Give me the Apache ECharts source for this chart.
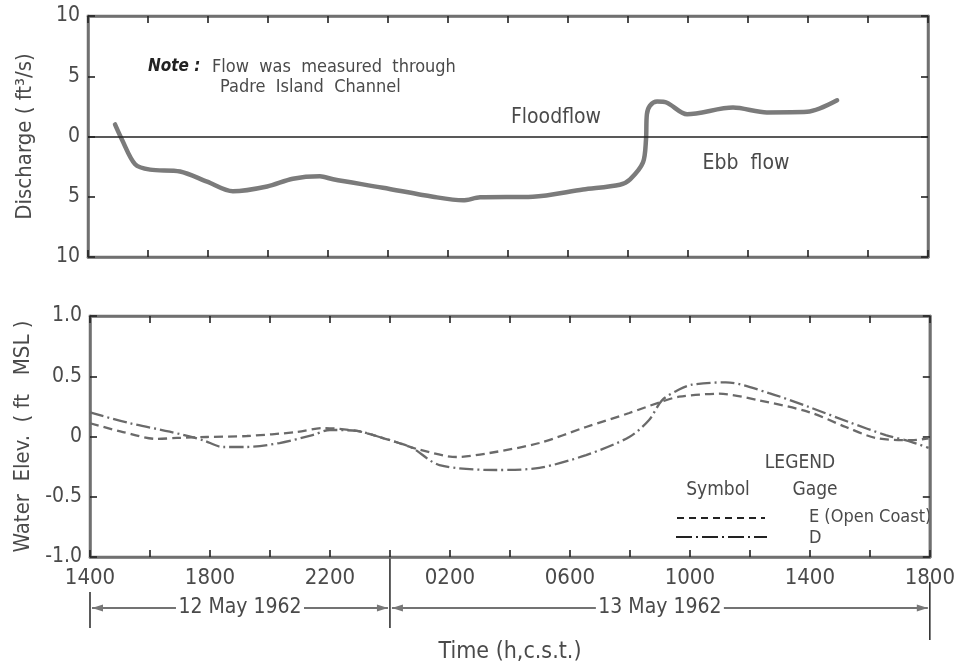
<!DOCTYPE html>
<html>
<head>
<meta charset="utf-8">
<script src="https://cdn.jsdelivr.net/npm/echarts@6/dist/echarts.min.js"></script>
<style>html,body{margin:0;padding:0;background:#fff}#c{width:958px;height:668px}</style>
</head>
<body>
<div id="c"></div>
<script>
// ---- data (hours after 1400 c.s.t., 12 May 1962) ----
const hoursQ = [0.9,1.13,1.57,2.07,3.07,3.97,4.83,5.97,6.83,7.73,8.17,9.83,11.5,12.5,13.07,14.83,16.5,17.73,18.07,18.5,18.6,18.63,18.73,18.97,19.3,19.97,21.5,22.63,23.97,24.97];
const discharge = [1.0,-0.25,-2.3,-2.75,-2.9,-3.75,-4.55,-4.15,-3.5,-3.3,-3.55,-4.25,-5.0,-5.3,-5.05,-5.0,-4.4,-4.0,-3.55,-2.15,-0.25,1.85,2.55,2.9,2.8,1.85,2.4,2.0,2.05,3.0];

const hoursE = [0,1.1,2.23,2.9,3.9,5.23,6.9,7.76,8.9,9.65,10.3,10.99,12.22,13.32,14.98,16.54,17.98,19.07,19.64,20.97,22.3,23.97,25.2,26.2,27.4,27.96];
const elevE = [0.11,0.037,-0.02,-0.012,-0.004,0.004,0.037,0.07,0.046,-0.004,-0.054,-0.11,-0.17,-0.137,-0.054,0.079,0.195,0.29,0.33,0.355,0.30,0.203,0.079,-0.012,-0.03,-0.015];

const hoursD = [0,1.33,2.66,3.76,4.43,5.23,6.32,7.42,8.0,8.9,9.65,10.3,10.75,11.65,13.55,14.98,16.54,17.98,18.64,19.07,19.64,20.07,21.2,22.64,23.97,25.3,26.53,27.4,27.96];
const elevD = [0.2,0.11,0.04,-0.03,-0.087,-0.087,-0.054,0.012,0.054,0.046,-0.004,-0.054,-0.095,-0.237,-0.278,-0.26,-0.154,-0.004,0.137,0.30,0.39,0.43,0.45,0.36,0.245,0.12,0.012,-0.046,-0.095];

const xTickLabels = ['1400','1800','2200','0200','0600','1000','1400','1800'];
const topYLabels = ['10','5','0','5','10'];
const bottomYLabels = ['-1.0','-0.5','0','0.5','1.0'];
const dayLabels = ['12 May 1962','13 May 1962'];

// ---- styling ----
const F = '"Liberation Sans Narrow","DejaVu Sans Condensed","Roboto Condensed","Liberation Sans",sans-serif';
const TXT = '#4a4a4a';
const BORDER = '#707070';

function pairs(xs, ys){ return xs.map((x,i)=>[x, ys[i]]); }

const tickStyle = {show:true, inside:true, length:7, lineStyle:{color:'#222', width:1.6}};
function xAx(grid, pos, labels){
  return {type:'value', gridIndex:grid, position:pos, min:0, max:28, interval:2,
    axisLine:{show:true, onZero:false, lineStyle:{color:BORDER, width:2.5}},
    axisTick:tickStyle, splitLine:{show:false},
    axisLabel: labels ? {show:true, margin:10, fontFamily:F, fontSize:22, color:TXT,
      formatter:v => (v % 4 === 0) ? xTickLabels[v/4] : ''} : {show:false}};
}
function yAx(grid, pos, min, max, step, labels, name, gap, nsize){
  return {type:'value', gridIndex:grid, position:pos, min:min, max:max, interval:step,
    axisLine:{show:true, onZero:false, lineStyle:{color:BORDER, width:2.5}},
    axisTick:tickStyle, splitLine:{show:false},
    name: name || '', nameLocation:'middle', nameGap: gap || 52, nameRotate: 90,
    nameTextStyle:{fontFamily:F, fontSize:nsize || 21, color:TXT},
    axisLabel: labels ? {show:true, margin:8, fontFamily:F, fontSize:21, color:TXT,
      formatter:v => labels[Math.round((v-min)/step)]} : {show:false}};
}

const option = {
  animation:false,
  backgroundColor:'#fff',
  grid:[
    {left:88, right:30, top:16, bottom:411, show:true, borderColor:BORDER, borderWidth:2.5},
    {left:90, right:27, top:316, bottom:111, show:true, borderColor:BORDER, borderWidth:2.5}
  ],
  xAxis:[xAx(0,'bottom',false), xAx(0,'top',false), xAx(1,'bottom',true), xAx(1,'top',false)],
  yAxis:[
    yAx(0,'left',-10,10,5,topYLabels,'Discharge ( ft³/s)', 52, 22),
    yAx(0,'right',-10,10,5,null),
    yAx(1,'left',-1,1,0.5,bottomYLabels,'Water  Elev.  ( ft   MSL )', 55, 22),
    yAx(1,'right',-1,1,0.5,null)
  ],
  series:[
    {type:'line', name:'Discharge', xAxisIndex:0, yAxisIndex:0, data:pairs(hoursQ, discharge),
     smooth:0.3, showSymbol:false, lineStyle:{color:'#7b7b7b', width:4.5, cap:'round', join:'round'},
     markLine:{silent:true, symbol:['none','none'], label:{show:false},
       lineStyle:{color:'#222', width:1.5, type:'solid'}, data:[{yAxis:0}]}},
    {type:'line', name:'E (Open Coast)', xAxisIndex:2, yAxisIndex:2, data:pairs(hoursE, elevE),
     smooth:0.3, showSymbol:false, lineStyle:{color:'#6a6a6a', width:2.3, type:[9,5]}},
    {type:'line', name:'D', xAxisIndex:2, yAxisIndex:2, data:pairs(hoursD, elevD),
     smooth:0.3, showSymbol:false, lineStyle:{color:'#6a6a6a', width:2.3, type:[14,4,2,4]}}
  ]
};

const chart = echarts.init(document.getElementById('c'));
chart.setOption(option);

// ---- annotations ----
function px(h){ return chart.convertToPixel({xAxisIndex:2}, h); }
const x0 = px(0), xm = px(10), x1 = px(28);
const ay = 608;
const c1 = (x0 + xm)/2, c2 = (xm + x1)/2;
const hw = 64;
const lineS = {stroke:'#444', lineWidth:1.6};
function seg(a,b,y){ return {type:'line', shape:{x1:a,y1:y,x2:b,y2:y}, style:lineS, silent:true}; }
function vline(x,yA,yB){ return {type:'line', shape:{x1:x,y1:yA,x2:x,y2:yB}, style:{stroke:'#333', lineWidth:1.6}, silent:true}; }
function head(x,y,dir){ // dir=+1 points right, -1 points left
  return {type:'polygon', shape:{points:[[x,y],[x-dir*11,y-3.5],[x-dir*11,y+3.5]]}, style:{fill:'#777'}, silent:true};
}
function txt(x,y,s,opt){
  return Object.assign({type:'text', x:x, y:y, silent:true,
    style:Object.assign({text:s, fontFamily:F, fontSize:18, fill:TXT, align:'left', verticalAlign:'middle'}, opt||{})});
}

chart.setOption({graphic:[
  // day span markers
  vline(x0, 592, 628), vline(xm, 557, 628), vline(x1, 582, 640),
  seg(x0+2, c1-hw, ay), seg(c1+hw, xm-2, ay),
  seg(xm+2, c2-hw, ay), seg(c2+hw, x1-2, ay),
  head(x0+2, ay, -1), head(xm-2, ay, 1), head(xm+2, ay, -1), head(x1-2, ay, 1),
  txt(c1, ay, dayLabels[0], {align:'center', fontSize:21}),
  txt(c2, ay, dayLabels[1], {align:'center', fontSize:21}),
  txt(510, 652, 'Time (h,c.s.t.)', {align:'center', fontSize:23}),
  // top panel notes
  txt(148, 67, 'Note :', {fontStyle:'italic', fontWeight:'bold', fontSize:17, fill:'#222'}),
  txt(212, 67, 'Flow  was  measured  through', {fontSize:18}),
  txt(220, 87, 'Padre  Island  Channel', {fontSize:18}),
  txt(556, 118, 'Floodflow', {align:'center', fontSize:21}),
  txt(746, 164, 'Ebb  flow', {align:'center', fontSize:21}),
  // legend
  txt(800, 463, 'LEGEND', {align:'center', fontSize:19}),
  txt(718, 490, 'Symbol', {align:'center', fontSize:19}),
  txt(815, 490, 'Gage', {align:'center', fontSize:19}),
  {type:'line', shape:{x1:677,y1:518,x2:765,y2:518}, style:{stroke:'#222', lineWidth:2, lineDash:[7,5]}, silent:true},
  {type:'line', shape:{x1:676,y1:537,x2:767,y2:537}, style:{stroke:'#222', lineWidth:2, lineDash:[16,4,2,4]}, silent:true},
  txt(809, 517, 'E (Open Coast)', {fontSize:18}),
  txt(809, 538, 'D', {fontSize:18})
]});
</script>
</body>
</html>
